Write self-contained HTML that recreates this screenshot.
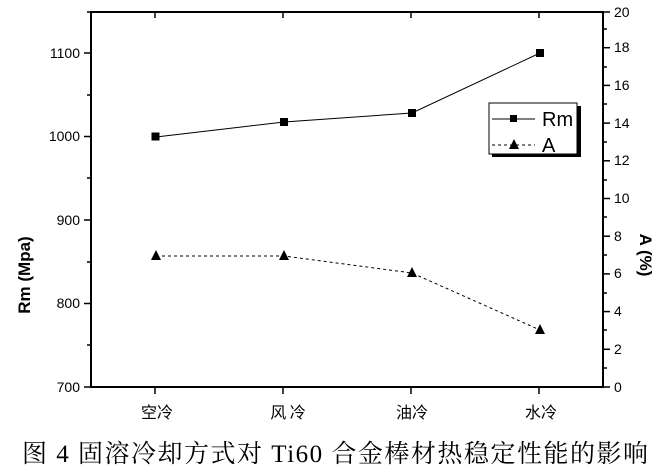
<!DOCTYPE html><html><head><meta charset="utf-8"><style>body{margin:0;background:#fff}svg{display:block}</style></head><body>
<svg width="668" height="469" xmlns="http://www.w3.org/2000/svg" font-family="Liberation Sans, sans-serif">
<rect width="668" height="469" fill="#fff"/>
<g stroke="#000" stroke-width="2" fill="none">
<rect x="91" y="12" width="512" height="375"/>
</g>
<g stroke="#000" stroke-width="1.5">
<line x1="84" y1="387" x2="91" y2="387"/><line x1="84" y1="303.5" x2="91" y2="303.5"/><line x1="84" y1="220" x2="91" y2="220"/><line x1="84" y1="136.5" x2="91" y2="136.5"/><line x1="84" y1="53" x2="91" y2="53"/>
<line x1="87" y1="345" x2="91" y2="345"/><line x1="87" y1="262" x2="91" y2="262"/><line x1="87" y1="178" x2="91" y2="178"/><line x1="87" y1="95" x2="91" y2="95"/><line x1="87" y1="12" x2="91" y2="12"/>
<line x1="155" y1="387" x2="155" y2="394"/><line x1="283" y1="387" x2="283" y2="394"/><line x1="411" y1="387" x2="411" y2="394"/><line x1="539" y1="387" x2="539" y2="394"/>
<line x1="155" y1="12" x2="155" y2="18"/><line x1="283" y1="12" x2="283" y2="18"/><line x1="411" y1="12" x2="411" y2="18"/><line x1="539" y1="12" x2="539" y2="18"/>
</g>
<g font-size="14" fill="#000" text-anchor="end">
<text x="80" y="392">700</text><text x="80" y="308">800</text><text x="80" y="225">900</text><text x="80" y="141">1000</text><text x="80" y="58">1100</text>
</g>
<g stroke="#000" stroke-width="1.5">
<line x1="603" y1="387" x2="610" y2="387"/><line x1="603" y1="349.3" x2="610" y2="349.3"/><line x1="603" y1="311.6" x2="610" y2="311.6"/><line x1="603" y1="273.9" x2="610" y2="273.9"/><line x1="603" y1="236.2" x2="610" y2="236.2"/><line x1="603" y1="198.5" x2="610" y2="198.5"/><line x1="603" y1="160.8" x2="610" y2="160.8"/><line x1="603" y1="123.1" x2="610" y2="123.1"/><line x1="603" y1="85.4" x2="610" y2="85.4"/><line x1="603" y1="47.7" x2="610" y2="47.7"/><line x1="603" y1="12" x2="610" y2="12"/>
<line x1="603" y1="368" x2="607" y2="368"/><line x1="603" y1="330" x2="607" y2="330"/><line x1="603" y1="293" x2="607" y2="293"/><line x1="603" y1="255" x2="607" y2="255"/><line x1="603" y1="217" x2="607" y2="217"/><line x1="603" y1="180" x2="607" y2="180"/><line x1="603" y1="142" x2="607" y2="142"/><line x1="603" y1="104" x2="607" y2="104"/><line x1="603" y1="67" x2="607" y2="67"/><line x1="603" y1="29" x2="607" y2="29"/>
</g>
<g font-size="14" fill="#000">
<text x="614" y="392">0</text><text x="614" y="354">2</text><text x="614" y="316">4</text><text x="614" y="278">6</text><text x="614" y="241">8</text><text x="614" y="203">10</text><text x="614" y="165">12</text><text x="614" y="128">14</text><text x="614" y="90">16</text><text x="614" y="52">18</text><text x="614" y="17">20</text>
</g>
<text transform="translate(30,275) rotate(-90)" font-size="17" font-weight="bold" text-anchor="middle">Rm (Mpa)</text>
<text transform="translate(640,255) rotate(90)" font-size="17" font-weight="bold" text-anchor="middle">A (%)</text>
<g font-size="16" font-family="Noto Sans CJK SC, sans-serif" text-anchor="middle">
<text x="157" y="418">空冷</text><text x="288" y="418">风 冷</text><text x="412" y="418">油冷</text><text x="541" y="418">水冷</text>
</g>
<polyline points="156,137 284,122 412,113 540,53" fill="none" stroke="#000" stroke-width="1"/>
<g fill="#000"><rect x="151.5" y="132.5" width="8" height="8"/><rect x="280" y="118" width="8" height="8"/><rect x="408" y="109" width="8" height="8"/><rect x="536" y="49" width="8" height="8"/></g>
<polyline points="156,256 284,256 412,273 540,330" fill="none" stroke="#000" stroke-width="1" stroke-dasharray="3,3"/>
<g fill="#000"><polygon points="156,250 151,260 161,260"/><polygon points="284,250 279,260 289,260"/><polygon points="412,267 407,277 417,277"/><polygon points="540,324 535,334 545,334"/></g>
<rect x="492" y="106" width="89" height="51" fill="#000"/>
<rect x="489" y="103" width="88" height="51" fill="#fff" stroke="#000" stroke-width="1"/>
<line x1="492" y1="119" x2="535" y2="119" stroke="#000"/><rect x="510" y="115" width="7" height="7"/>
<text x="542" y="126" font-size="20">Rm</text>
<line x1="492" y1="145" x2="535" y2="145" stroke="#000" stroke-dasharray="3,3"/><polygon points="514,139 509,149 519,149"/>
<text x="542" y="152" font-size="20">A</text>
<text x="22" y="462" font-size="25" textLength="626" lengthAdjust="spacing" font-family="Liberation Serif, Noto Serif CJK SC, serif">图 4 固溶冷却方式对 Ti60 合金棒材热稳定性能的影响</text>
</svg>
</body></html>
